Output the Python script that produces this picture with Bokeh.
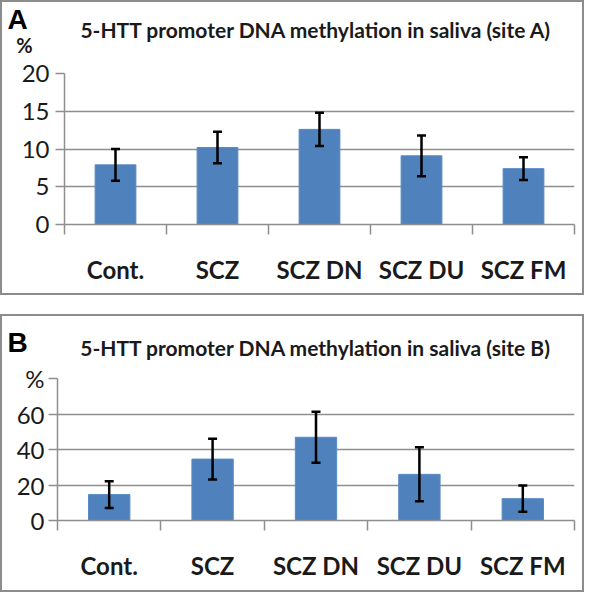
from bokeh.plotting import figure
from bokeh.models import ColumnDataSource, Whisker, TeeHead, FixedTicker, Range1d
from bokeh.layouts import column
from bokeh.embed import file_html
from bokeh.resources import INLINE
from bokeh.core.properties import value

categories = ["Cont.", "SCZ", "SCZ DN", "SCZ DU", "SCZ FM"]
site_a_mean = [7.9, 10.2, 12.6, 9.1, 7.4]
site_a_err = [2.1, 2.1, 2.2, 2.7, 1.5]
site_b_mean = [14.6, 34.6, 46.9, 26.0, 12.3]
site_b_err = [7.5, 11.5, 14.3, 15.2, 7.4]
site_a_ticks = [0, 5, 10, 15, 20]
site_b_ticks = [0, 20, 40, 60, 80]
title_a = "5-HTT promoter DNA methylation in saliva (site A)"
title_b = "5-HTT promoter DNA  methylation in saliva (site B)"

FONT = "Lato"
GRID = "#8e8e8e"
BAR = "#4f81bd"
BORDER = "2px solid #8c8c8c"
W = 584


def make_header(letter, title, height, pos, pct):
    h = figure(width=W, height=height, output_backend="svg", toolbar_location=None,
               x_range=Range1d(0, W), y_range=Range1d(height, 0),
               min_border=0, x_axis_type=None, y_axis_type=None)
    h.frame_align = False
    h.outline_line_color = None
    h.xgrid.visible = False
    h.ygrid.visible = False
    h.border_fill_color = "white"
    h.styles = {"border": BORDER, "border-bottom": "none", "box-sizing": "border-box"}
    h.text(x=[pos["letter"][0]], y=[pos["letter"][1]], text=[letter],
           text_font=value("Liberation Sans"), text_font_style="bold",
           text_font_size="28px", text_color="black",
           text_baseline="middle", text_align="left")
    h.text(x=[pos["title"][0]], y=[pos["title"][1]], text=[title],
           text_font=value(FONT), text_font_style="bold",
           text_font_size="21px", text_color="#1a1a1a",
           text_baseline="middle", text_align="center")
    if pct:
        h.text(x=[pos["pct"][0]], y=[pos["pct"][1]], text=["%"],
               text_font=value(FONT), text_font_style="bold",
               text_font_size="20px", text_color="#1a1a1a",
               text_baseline="middle", text_align="center")
    return h


def make_panel(means, errs, ticks, height, mb, pct_on_axis, xstand, ystand):
    n = len(categories)
    xs = [i + 0.5 for i in range(n)]
    src = ColumnDataSource(dict(
        x=xs, top=means,
        upper=[m + e for m, e in zip(means, errs)],
        lower=[m - e for m, e in zip(means, errs)],
    ))
    p = figure(width=W, height=height, output_backend="svg", toolbar_location=None,
               x_range=Range1d(0, n), y_range=Range1d(0, ticks[-1]),
               min_border_left=mb[0], min_border_right=mb[1],
               min_border_top=mb[2], min_border_bottom=mb[3])
    p.frame_align = False
    p.outline_line_color = None
    p.background_fill_color = "white"
    p.border_fill_color = "white"
    p.styles = {"border": BORDER, "border-top": "none", "box-sizing": "border-box"}

    p.vbar(x="x", top="top", width=0.4, source=src, fill_color=BAR,
           line_color="#5a8ac6", line_width=1)
    w = Whisker(source=src, base="x", upper="upper", lower="lower", level="overlay",
                line_color="black", line_width=2.5,
                upper_head=TeeHead(size=9, line_width=2.5, line_color="black"),
                lower_head=TeeHead(size=9, line_width=2.5, line_color="black"))
    p.add_layout(w)

    xa = p.xaxis[0]
    xa.ticker = FixedTicker(ticks=xs, minor_ticks=list(range(n + 1)))
    xa.major_label_overrides = {x: c for x, c in zip(xs, categories)}
    xa.axis_line_color = GRID
    xa.axis_line_width = 1.5
    xa.major_tick_line_color = None
    xa.major_tick_out = 0
    xa.major_tick_in = 0
    xa.minor_tick_line_color = GRID
    xa.minor_tick_line_width = 1.5
    xa.minor_tick_out = 10
    xa.minor_tick_in = 0
    xa.major_label_standoff = xstand
    xa.major_label_text_font = FONT
    xa.major_label_text_font_style = "bold"
    xa.major_label_text_font_size = "24px"
    xa.major_label_text_color = "#1a1a1a"

    ya = p.yaxis[0]
    ya.ticker = FixedTicker(ticks=ticks, minor_ticks=[])
    if pct_on_axis:
        ya.major_label_overrides = {ticks[-1]: "%"}
    ya.axis_line_color = GRID
    ya.axis_line_width = 1.5
    ya.major_tick_line_color = GRID
    ya.major_tick_line_width = 1.5
    ya.major_tick_out = 9
    ya.major_tick_in = 0
    ya.minor_tick_line_color = None
    ya.major_label_standoff = ystand
    ya.major_label_text_font = FONT
    ya.major_label_text_font_size = "24px"
    ya.major_label_text_color = "#1a1a1a"

    p.xgrid.grid_line_color = None
    p.ygrid.ticker = FixedTicker(ticks=ticks)
    p.ygrid.grid_line_color = GRID
    p.ygrid.grid_line_width = 1.5
    return p


ha = make_header("A", title_a, 58,
                 dict(letter=(5, 17), title=(314, 27), pct=(22, 42)), True)
pa = make_panel(site_a_mean, site_a_err, site_a_ticks, 237, (62, 12, 15, 71), False, 20, 6)

hb = make_header("B", title_b, 49,
                 dict(letter=(5, 26), title=(316, 31)), False)
pb = make_panel(site_b_mean, site_b_err, site_b_ticks, 229, (55, 12, 15, 72), True, 20, 4)

layout = column(column(ha, pa), column(hb, pb), spacing=19)
open("out.html", "w").write(file_html(layout, INLINE))
